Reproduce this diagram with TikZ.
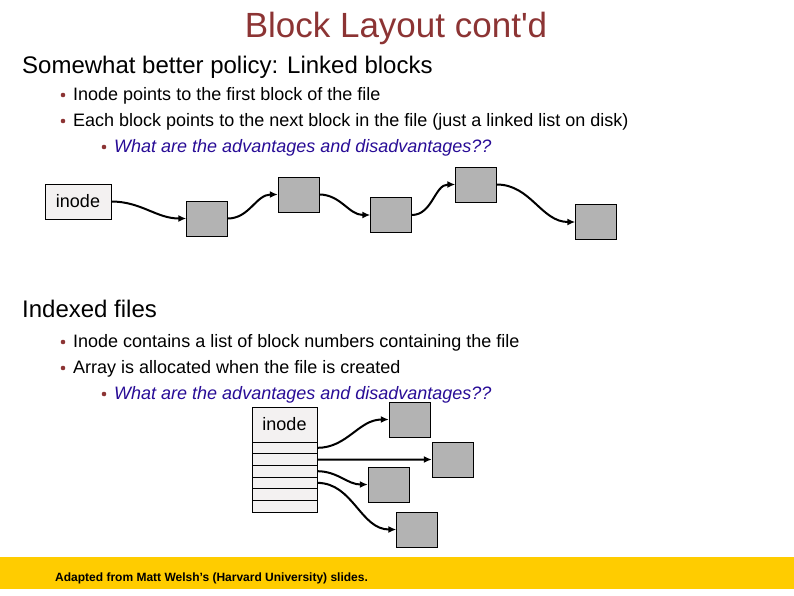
\documentclass[tikz,border=0pt]{standalone}
\usepackage{fontspec}
\setmainfont{Liberation Sans}
\usetikzlibrary{arrows.meta}
\definecolor{titlered}{RGB}{140,52,52}
\definecolor{askblue}{RGB}{40,12,150}
\definecolor{blockgray}{RGB}{179,179,179}
\definecolor{inodefill}{RGB}{243,241,241}
\definecolor{bandyellow}{RGB}{255,204,0}
\begin{document}
\begin{tikzpicture}[x=1pt,y=-1pt,
    blk/.style={draw,fill=blockgray,minimum width=41pt,minimum height=35pt,inner sep=0pt},
    inodebox/.style={draw,fill=inodefill,inner sep=0pt,font=\fontsize{18}{20}\selectfont},
    slot/.style={draw,fill=inodefill,minimum width=65pt,minimum height=11.67pt,inner sep=0pt},
    link/.style={line width=2pt,-{Latex[length=8pt,width=7pt]},out=0,in=180},
    txt/.style={anchor=base west,inner sep=0pt,font=\fontsize{18}{20}\selectfont},
    ask/.style={txt,text=askblue,font=\fontsize{18}{20}\selectfont\itshape},
    head/.style={anchor=base west,inner sep=0pt,font=\fontsize{24}{28}\selectfont}]
    \useasboundingbox (0,0) rectangle (794,595);
    \fill[bandyellow] (0,557) rectangle (794,589);
    \node[anchor=base,inner sep=0pt,text=titlered,font=\fontsize{35}{40}\selectfont] (title) at (396,37) {Block Layout cont\textquotesingle d};
    \node[head] (linked) at (22,73) {Somewhat better policy: Linked blocks};
    \node[txt] (l1) at (73,100) {Inode points to the first block of the file};
    \node[txt] (l2) at (73,126) {Each block points to the next block in the file (just a linked list on disk)};
    \node[ask] (l3) at (114,152) {What are the advantages and disadvantages??};
    \node[head] (indexed) at (22,317) {Indexed files};
    \node[txt] (i1) at (73,347) {Inode contains a list of block numbers containing the file};
    \node[txt] (i2) at (73,373) {Array is allocated when the file is created};
    \node[ask] (i3) at (114,399) {What are the advantages and disadvantages??};
    \foreach \y in {100,126,347,373}
        \fill[titlered] (63,\y-5) circle (2.3);
    \foreach \y in {152,399}
        \fill[titlered] (104,\y-5) circle (2.3);

    \node[inodebox,minimum width=66pt,minimum height=35pt] (inode) at (78,201.5) {inode};
    \node[blk] (b1) at (207,218.5) {};
    \node[blk] (b2) at (298.5,194.5) {};
    \node[blk] (b3) at (391,215) {};
    \node[blk] (b4) at (476,184.5) {};
    \node[blk] (b5) at (596,222) {};
    \draw[link] (inode) to (b1);
    \draw[link] (b1) to (b2);
    \draw[link] (b2) to (b3);
    \draw[link] (b3) to (b4);
    \draw[link] (b4) to (b5);

    \node[inodebox,minimum width=65pt,minimum height=35pt] (table) at (284.5,424.5) {inode};
    \foreach \i in {1,...,6}
        \node[slot] (r\i) at (284.5,436.17+\i*11.67) {};
    \node[blk] (ba) at (409.5,419.5) {};
    \node[blk] (bb) at (452.5,459.5) {};
    \node[blk] (bc) at (388.5,484.5) {};
    \node[blk] (bd) at (417,529.5) {};
    \draw[link] (r1) to (ba);
    \draw[link] (r2) to (bb);
    \draw[link] (r3) to (bc);
    \draw[link] (r4) to (bd);

    \node[anchor=base west,inner sep=0pt,font=\fontsize{12}{14}\selectfont\bfseries] (credit) at (55,581) {Adapted from Matt Welsh's (Harvard University) slides.};
\end{tikzpicture}
\end{document}
